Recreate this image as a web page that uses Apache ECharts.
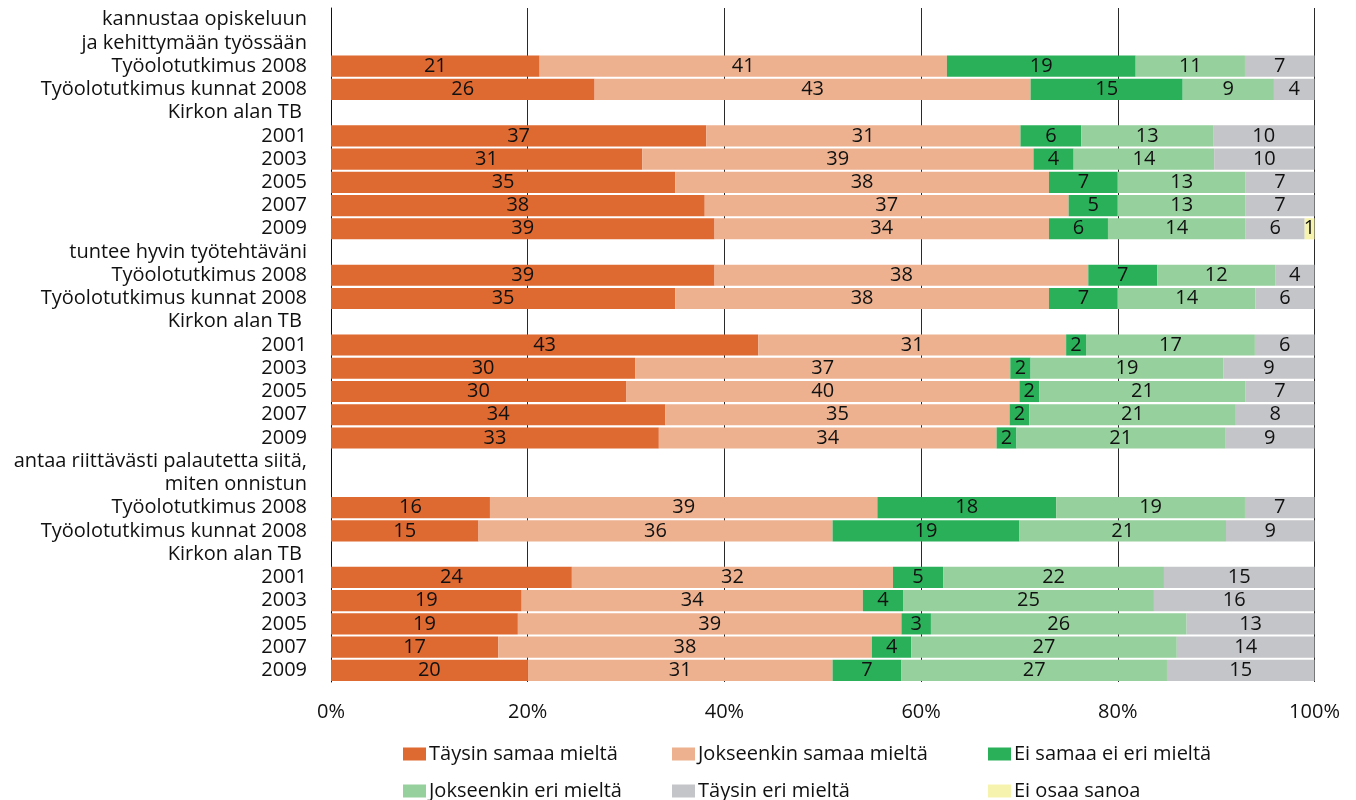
<!DOCTYPE html>
<html>
<head>
<meta charset="utf-8">
<script src="https://cdn.jsdelivr.net/npm/echarts@6/dist/echarts.min.js"></script>
<style>
html,body{margin:0;padding:0;background:#fff;}
#chart{width:1356px;height:800px;}
</style>
</head>
<body>
<div id="chart"></div>
<script>
// Row labels (top to bottom)
const categories = [
  'kannustaa opiskeluun', 'ja kehittymään työssään',
  'Työolotutkimus 2008', 'Työolotutkimus kunnat 2008', 'Kirkon alan TB ',
  '2001', '2003', '2005', '2007', '2009',
  'tuntee hyvin työtehtäväni',
  'Työolotutkimus 2008', 'Työolotutkimus kunnat 2008', 'Kirkon alan TB ',
  '2001', '2003', '2005', '2007', '2009',
  'antaa riittävästi palautetta siitä,', 'miten onnistun',
  'Työolotutkimus 2008', 'Työolotutkimus kunnat 2008', 'Kirkon alan TB ',
  '2001', '2003', '2005', '2007', '2009'
];

const seriesNames = [
  'Täysin samaa mieltä', 'Jokseenkin samaa mieltä', 'Ei samaa ei eri mieltä',
  'Jokseenkin eri mieltä', 'Täysin eri mieltä', 'Ei osaa sanoa'
];

// Values (%) per response option, aligned with categories (null = heading row / no value)
const taysinSamaa     = [null,null,21,26,null,37,31,35,38,39, null,39,35,null,43,30,30,34,33, null,null,16,15,null,24,19,19,17,20];
const jokseenkinSamaa = [null,null,41,43,null,31,39,38,37,34, null,38,38,null,31,37,40,35,34, null,null,39,36,null,32,34,39,38,31];
const eiSamaaEiEri    = [null,null,19,15,null,6,4,7,5,6,      null,7,7,null,2,2,2,2,2,        null,null,18,19,null,5,4,3,4,7];
const jokseenkinEri   = [null,null,11,9,null,13,14,13,13,14,  null,12,14,null,17,19,21,21,21, null,null,19,21,null,22,25,26,27,27];
const taysinEri       = [null,null,7,4,null,10,10,7,7,6,      null,4,6,null,6,9,7,8,9,        null,null,7,9,null,15,16,13,14,15];
const eiOsaaSanoa     = [null,null,null,null,null,null,null,null,null,1, null,null,null,null,null,null,null,null,null, null,null,null,null,null,null,null,null,null,null];

const xTicks = [0, 20, 40, 60, 80, 100];

const allValues = [taysinSamaa, jokseenkinSamaa, eiSamaaEiEri, jokseenkinEri, taysinEri, eiOsaaSanoa];
const colors = ['#DE6931', '#EDB18F', '#2BB05A', '#96D09C', '#C4C5C8', '#F6F3AE'];
const FONT = '"Open Sans", "Noto Sans", sans-serif';
const FS = 20;

// 100% stacking: each row normalised by its total
const totals = categories.map((_, i) => allValues.reduce((s, arr) => s + (arr[i] || 0), 0));

const series = allValues.map((arr, k) => ({
  name: seriesNames[k],
  type: 'bar',
  stack: 'total',
  barCategoryGap: '9%',
  itemStyle: { color: colors[k] },
  label: {
    show: true,
    position: 'inside',
    color: '#111',
    fontSize: FS,
    fontFamily: FONT,
    formatter: p => (arr[p.dataIndex] == null ? '' : String(arr[p.dataIndex]))
  },
  data: arr.map((v, i) => (v == null ? null : v / totals[i] * 100))
}));

const legendLeft = [403, 672, 988];
const legendTop = [744, 781];
const legends = seriesNames.map((n, i) => ({
  data: [n],
  left: legendLeft[i % 3],
  top: legendTop[Math.floor(i / 3)],
  orient: 'horizontal',
  padding: 0,
  itemWidth: 23,
  itemHeight: 13,
  icon: 'rect',
  selectedMode: false,
  textStyle: { fontSize: FS, fontFamily: FONT, color: '#111', padding: [0, 0, 0, -2] }
}));

const chart = echarts.init(document.getElementById('chart'));
chart.setOption({
  animation: false,
  color: colors,
  legend: legends,
  grid: { left: 331, right: 41.5, top: 8, bottom: 118, containLabel: false },
  xAxis: {
    type: 'value',
    min: xTicks[0],
    max: xTicks[xTicks.length - 1],
    interval: 20,
    axisLine: { show: false },
    axisTick: { show: false },
    splitLine: { show: true, lineStyle: { color: '#2a2a2a', width: 1 } },
    axisLabel: {
      margin: 20,
      fontSize: FS,
      fontFamily: FONT,
      color: '#111',
      formatter: '{value}%'
    }
  },
  yAxis: {
    type: 'category',
    inverse: true,
    data: categories,
    axisLine: { show: true, lineStyle: { color: '#111', width: 1 } },
    axisTick: { show: false },
    axisLabel: {
      margin: 24,
      fontSize: FS,
      fontFamily: FONT,
      color: '#111',
      interval: 0
    }
  },
  series: series
});
</script>
</body>
</html>
